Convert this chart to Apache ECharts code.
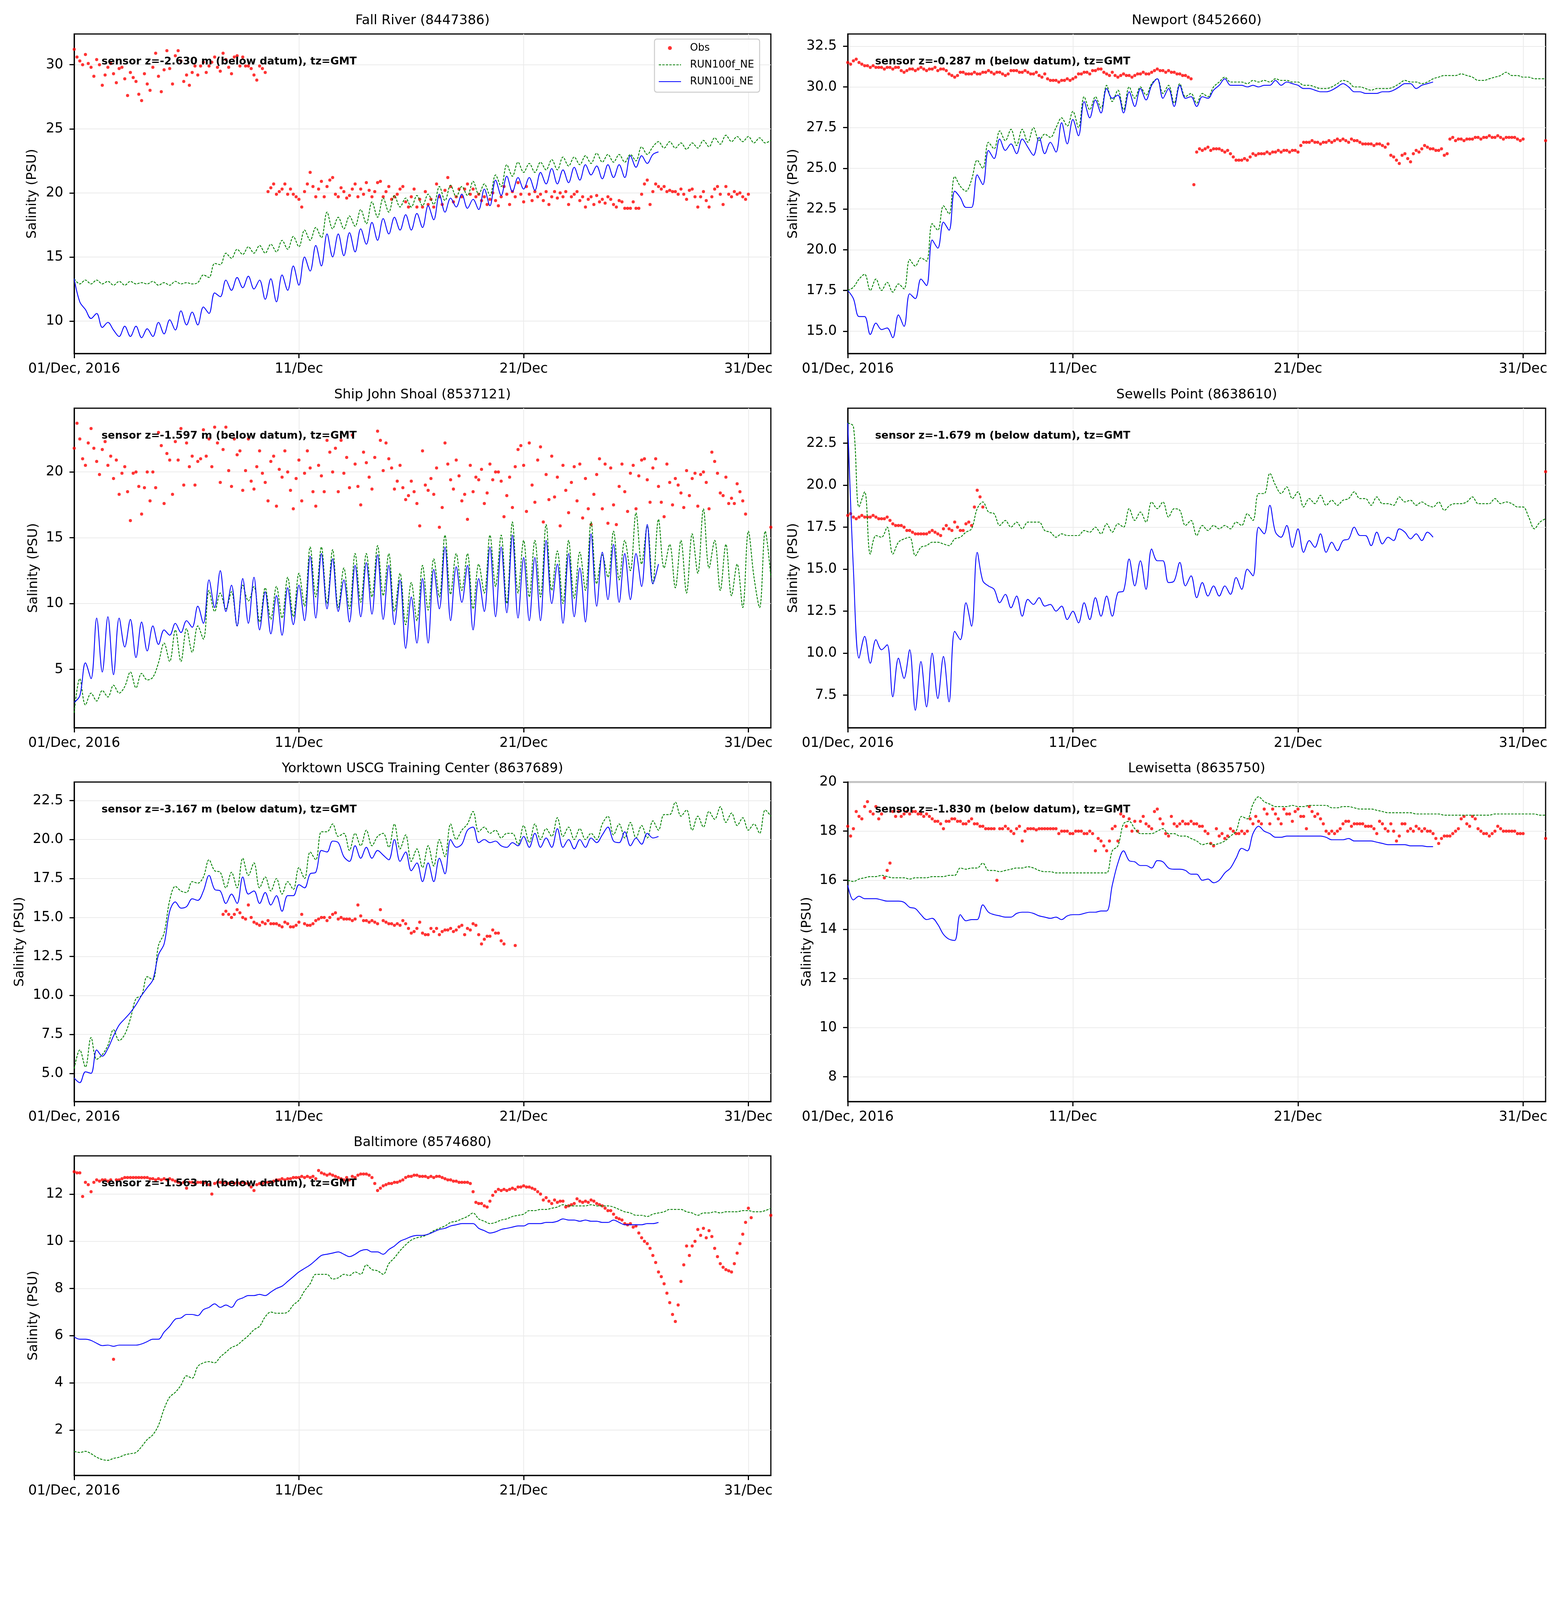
<!DOCTYPE html>
<html><head><meta charset="utf-8">
<script src="https://cdn.jsdelivr.net/npm/echarts@6/dist/echarts.min.js"></script>
<style>html,body{margin:0;padding:0;background:#fff}#chart{width:4000px;height:5000px}</style>
</head><body><div id="chart"></div>
<script>
// ---------------- DATA ----------------
const MODEL_STEP_H = 6;   // model series sampled every 6 h from 01/Dec 00:00
const OBS_STEP_H = 3;     // observations sampled every 3 h from 01/Dec 00:00
const seriesNames = ['Obs', 'RUN100f_NE', 'RUN100i_NE'];
const stationTitles = ['Fall River (8447386)', 'Newport (8452660)', 'Ship John Shoal (8537121)', 'Sewells Point (8638610)',
  'Yorktown USCG Training Center (8637689)', 'Lewisetta (8635750)', 'Baltimore (8574680)'];
const sensorNotes = ['sensor z=-2.630 m (below datum), tz=GMT', 'sensor z=-0.287 m (below datum), tz=GMT',
  'sensor z=-1.597 m (below datum), tz=GMT', 'sensor z=-1.679 m (below datum), tz=GMT',
  'sensor z=-3.167 m (below datum), tz=GMT', 'sensor z=-1.830 m (below datum), tz=GMT',
  'sensor z=-1.563 m (below datum), tz=GMT'];
const xTickDays = [0, 10, 20, 30];
const xTickLabels = ['01/Dec, 2016', '11/Dec', '21/Dec', '31/Dec'];
const xRangeDays = [0, 31];
const yAxisTitle = 'Salinity (PSU)';
const xAxisTitle = 'Time';

const fallRiverYRange = [7.47, 32.4];
const fallRiverYTicks = [10, 15, 20, 25, 30];
const newportYRange = [13.63, 33.25];
const newportYTicks = [15, 17.5, 20, 22.5, 25, 27.5, 30, 32.5];
const shipJohnYRange = [0.57, 24.84];
const shipJohnYTicks = [5, 10, 15, 20];
const sewellsYRange = [5.56, 24.58];
const sewellsYTicks = [7.5, 10, 12.5, 15, 17.5, 20, 22.5];
const yorktownYRange = [3.19, 23.69];
const yorktownYTicks = [5, 7.5, 10, 12.5, 15, 17.5, 20, 22.5];
const lewisettaYRange = [6.99, 20];
const lewisettaYTicks = [8, 10, 12, 14, 16, 18, 20];
const baltimoreYRange = [0.08, 13.62];
const baltimoreYTicks = [2, 4, 6, 8, 10, 12];
const yTickDecimals = [0, 1, 0, 1, 1, 0, 0];

// Fall River
const fallRiverObs = [31.2,30.6,30.3,30.0,30.8,30.1,29.8,29.1,30.4,30.0,
28.4,29.2,29.8,30.1,29.3,28.6,29.7,29.8,28.9,27.6,
29.4,29.0,28.7,27.7,27.2,29.3,28.5,28.0,29.8,30.9,
29.1,27.9,29.6,31.1,29.7,28.5,30.7,31.1,30.3,28.7,
29.2,28.4,29.4,29.9,29.2,29.9,30.2,29.4,29.9,30.2,
30.6,29.8,29.5,30.9,30.4,29.8,29.3,30.6,30.7,29.9,
30.6,29.9,29.9,29.7,29.2,28.8,29.9,29.7,29.4,
20.1,20.4,20.7,19.9,20.1,20.3,20.7,19.9,20.3,19.9,
19.7,19.5,18.9,20.1,20.7,21.6,20.5,19.7,20.3,20.9,
19.7,20.5,21.0,21.2,19.9,19.7,20.4,20.1,19.6,19.8,
20.3,20.7,19.7,20.3,19.9,20.8,20.2,19.7,20.1,20.8,
20.9,19.7,20.1,20.5,19.5,19.7,19.9,20.3,20.5,19.3,
18.9,19.7,20.3,18.9,19.5,18.9,20.1,19.1,19.5,18.9,
20.7,19.7,19.1,20.2,21.2,20.5,19.3,19.7,20.3,19.7,
20.3,20.7,19.9,20.3,19.7,19.9,19.4,19.7,19.1,19.5,
20.0,19.4,19.0,19.7,20.5,19.9,19.1,20.1,19.7,20.8,
19.9,19.3,20.5,19.9,19.4,20.1,19.7,19.9,19.4,20.1,
19.1,19.7,20.1,19.6,20.0,19.7,20.1,19.1,19.7,19.9,
20.1,19.4,19.7,18.9,19.5,19.7,19.1,19.8,19.3,19.5,
19.2,19.7,19.5,19.1,18.9,19.4,19.3,18.8,18.8,18.8,
19.3,18.8,18.8,19.9,20.7,21.0,19.1,20.1,20.7,20.5,
20.3,20.5,20.1,20.2,20.1,20.1,19.9,20.3,19.9,19.5,
20.2,20.3,19.7,18.9,19.7,20.1,19.4,18.9,19.7,20.3,
20.5,19.9,19.1,20.5,19.9,19.7,20.1,19.9,20.0,19.7,
19.5,19.9];
const fallRiverRun100f = [13.3,12.9,13.2,12.9,13.2,12.9,13.1,12.8,13.1,12.8,
13.1,12.9,13.0,12.9,13.1,12.8,13.0,12.8,13.1,12.9,
13.0,12.9,13.0,13.6,13.4,14.5,14.4,15.3,14.9,15.6,
15.2,15.8,15.3,15.9,15.3,16.0,15.4,16.3,15.6,16.6,
15.8,17.1,16.3,17.3,16.5,18.5,17.2,18.1,17.2,18.2,
17.4,18.7,17.6,19.3,18.1,19.6,18.5,19.8,18.9,19.6,
18.9,19.8,19.0,19.9,19.1,20.5,19.4,20.6,19.7,20.5,
19.8,20.9,19.9,20.7,19.8,21.4,20.5,22.2,21.3,22.4,
21.6,22.3,21.6,22.4,21.8,22.6,21.8,22.8,22.1,22.8,
22.2,22.9,22.3,23.1,22.4,23.0,22.4,23.0,22.4,23.0,
22.5,23.6,23.0,23.6,24.0,23.5,24.0,23.5,23.9,23.4,
23.9,23.5,24.1,23.6,24.3,23.8,24.5,24.0,24.4,24.0,
24.4,23.9,24.3,23.9,24.1];
const fallRiverRun100i = [13.3,11.5,10.9,10.2,10.6,9.5,9.9,9.3,8.8,9.6,
8.8,9.6,8.7,9.4,8.8,9.9,9.0,10.1,9.3,10.8,
9.7,10.7,9.7,11.1,10.6,12.2,11.9,13.2,12.4,13.4,
12.6,13.5,12.5,13.2,11.7,13.3,11.5,13.6,12.4,14.3,
12.8,15.0,13.9,15.9,14.3,16.8,15.0,16.8,15.1,16.9,
15.4,17.2,16.0,17.7,16.3,18.0,16.8,18.1,17.1,18.3,
17.1,18.4,17.3,19.0,17.9,19.9,18.5,19.6,18.9,19.9,
18.8,19.5,18.7,20.3,19.0,21.0,19.8,21.3,20.1,21.2,
20.3,21.2,20.2,21.6,20.7,21.9,20.7,21.8,20.8,22.0,
21.0,22.2,21.4,22.1,21.1,22.2,21.2,22.2,21.2,22.9,
22.0,22.9,22.3,23.0,23.2];

// Newport
const newportObs = [31.5,31.4,31.6,31.7,31.5,31.4,31.3,31.3,31.2,31.3,
31.2,31.2,31.2,31.1,31.2,31.2,31.1,31.2,31.2,31.0,
30.9,31.0,31.1,31.1,31.0,31.1,31.2,31.1,31.0,31.1,
31.1,31.2,31.0,31.1,31.1,31.0,30.8,30.7,30.6,30.7,
30.9,30.9,30.8,30.8,30.8,30.9,30.8,30.8,30.9,30.9,
31.0,30.9,30.8,30.9,30.9,30.8,30.7,30.8,31.0,31.0,
31.0,30.9,30.9,31.0,30.9,30.8,30.8,30.9,30.7,30.6,
30.8,30.5,30.4,30.4,30.4,30.3,30.4,30.4,30.5,30.4,
30.5,30.6,30.8,30.8,30.9,30.9,30.8,31.0,31.0,31.1,
31.1,30.9,30.8,30.7,30.9,30.7,30.6,30.7,30.8,30.7,
30.7,30.6,30.7,30.8,30.8,30.9,30.8,30.8,30.9,31.0,
31.1,31.0,31.0,30.9,31.0,30.9,30.9,30.8,30.8,30.7,
30.7,30.6,30.5,24.0,26.0,26.2,26.1,26.2,26.3,26.1,
26.2,26.2,26.2,26.1,26.0,26.1,25.9,25.7,25.5,25.5,
25.5,25.6,25.5,25.7,25.9,25.8,25.9,25.9,25.9,26.0,
25.9,26.0,26.0,26.1,26.0,26.1,26.1,26.0,26.1,26.1,
26.0,26.4,26.6,26.6,26.6,26.7,26.6,26.6,26.5,26.6,
26.6,26.7,26.6,26.7,26.8,26.7,26.8,26.7,26.6,26.8,
26.7,26.7,26.6,26.5,26.5,26.5,26.5,26.4,26.5,26.5,
26.4,26.3,26.5,25.8,25.7,25.5,25.3,25.8,25.9,25.6,
25.4,25.9,26.1,26.0,26.2,26.4,26.3,26.2,26.2,26.1,
26.1,26.2,25.8,25.9,26.8,26.9,26.7,26.8,26.8,26.7,
26.8,26.8,26.8,26.9,26.9,26.8,26.9,26.9,27.0,26.9,
26.9,27.0,26.9,26.8,26.9,26.9,26.9,26.9,26.8,26.7,
26.8,null,null,null,null,null,null,null,26.7];
const newportRun100f = [17.5,17.7,18.2,18.5,17.5,18.2,17.5,18.0,17.4,17.9,
17.6,19.4,19.0,19.5,19.3,21.6,21.2,22.7,22.2,24.5,
23.9,23.6,24.3,25.5,25.0,26.6,26.2,27.3,26.7,27.4,
26.4,27.4,26.6,27.5,26.7,27.1,26.9,27.5,28.1,27.6,
28.5,27.5,29.4,28.6,29.4,28.7,30.1,29.1,29.8,28.6,
30.0,29.3,30.0,29.5,30.2,30.5,29.6,30.1,29.0,30.2,
29.4,29.6,29.0,29.6,29.4,30.0,30.3,30.6,30.3,30.3,
30.3,30.2,30.4,30.3,30.4,30.3,30.5,30.4,30.4,30.3,
30.3,30.1,30.1,30.0,29.9,29.9,30.0,30.2,30.4,30.3,
30.0,30.0,29.9,29.8,29.9,29.9,29.9,30.0,30.2,30.4,
30.3,30.3,30.2,30.3,30.5,30.6,30.7,30.7,30.7,30.8,
30.7,30.6,30.4,30.4,30.5,30.6,30.7,30.9,30.7,30.7,
30.6,30.6,30.5,30.5,30.5];
const newportRun100i = [17.5,17.0,15.9,15.9,14.8,15.5,15.1,15.2,14.6,16.0,
15.3,17.3,17.0,18.2,17.8,20.6,20.1,21.7,21.2,23.6,
23.2,22.6,22.6,24.6,24.0,26.1,25.6,26.8,26.1,26.5,
25.9,26.8,26.3,25.8,26.9,25.9,26.6,26.0,27.8,26.5,
28.0,27.0,29.1,28.1,29.2,28.4,29.9,29.3,29.5,28.4,
29.7,28.8,29.9,29.2,30.1,30.5,29.3,29.9,28.8,30.1,
29.3,29.4,28.8,29.4,29.3,29.8,30.1,30.5,30.1,30.1,
30.1,30.0,30.1,30.0,30.1,30.1,30.4,30.1,30.3,30.2,
30.1,29.9,29.9,29.8,29.7,29.7,29.8,30.0,30.2,30.0,
29.7,29.7,29.6,29.6,29.6,29.7,29.7,29.8,30.0,30.2,
30.2,29.9,30.1,30.2,30.3];

// Ship John Shoal
const shipJohnObs = [21.8,23.7,22.5, 21.0,20.5,22.2, 23.3,21.8,
20.8,19.8,21.7, 22.3,20.5,21.2, 19.5,20.9,
18.3,19.9,20.4, 18.5,16.3,19.9, 20.0,18.9,
16.8,18.8,20.0, 17.8,20.0,18.8, 23.0,22.0,
17.6,21.4,20.9, 18.3,22.3,20.9, 23.3,19.0,
22.2,20.4,21.2, 19.0,20.8,21.0, 23.2,21.2,
22.5,20.4,23.4, 22.2,19.2,21.7, 23.4,20.1,
18.9,22.5,21.3, 21.6,18.6,20.1, 22.5,19.3,
18.7,20.4,21.6, 19.9,19.2,17.8, 20.8,21.2,
17.4,20.2,19.6, 21.6,20.0,18.6, 17.2,19.5,
20.9,17.8,19.9, 21.6,20.3,18.5, 17.4,20.5,
19.7,18.5,22.4, 21.5,20.0,21.8, 18.5,22.4,
19.9,21.1,18.8, 22.8,20.6,18.9, 17.5,21.5,
20.7,19.6,18.7, 21.1,23.1,22.4, 20.1,22.2,
21.0,20.3,18.7, 19.3,20.5,18.8, 17.9,18.2,
19.3,18.5,17.6, 15.9,21.6,19.0, 18.6,19.5,
18.3,20.3,15.8, 17.3,22.2,20.6, 19.4,18.7,
20.9,19.7,17.8, 18.3,16.4,20.5, 18.5,19.6,
19.4,20.2,17.6, 18.4,20.6,19.4, 20.0,20.0,
19.3,16.6,18.2, 19.6,17.3,20.4, 21.7,22.0,
20.5,17.0,22.2, 19.0,17.7,20.9, 21.9,16.2,
19.8,17.9,21.2, 18.1,19.6,15.9, 20.5,18.6,
16.9,19.2,20.4, 17.8,20.6,16.5, 19.5,17.2,
16.0,18.3,19.8, 21.0,17.2,20.6, 16.1,20.3,
17.5,16.0,18.9, 20.6,18.5,17.0, 19.9,20.5,
17.2,19.7,20.9, 21.0,19.4,17.7, 20.3,21.0,
18.9,17.7,16.6, 20.6,19.2,17.5, 19.5,19.0,
18.4,17.3,20.1, 18.2,19.5,19.9, 17.4,19.8,
20.0,19.2,17.2, 21.5,20.8,19.9, 18.4,18.2,
19.6,17.6,18.0, 17.6,19.1,18.5, 17.8,16.8,
null,null,null,null,null,null,null,null,15.8];
const shipJohnRun100f = [1.7,4.3,2.3,3.2,2.6,3.4,2.9,3.8,3.2,3.7,
4.8,3.6,4.7,4.2,4.4,5.5,7.0,5.6,8.0,5.6,
8.1,6.3,8.3,7.3,11.0,9.4,10.8,9.6,10.9,8.3,
11.4,10.2,11.3,8.6,11.2,8.8,11.3,8.9,12.0,9.0,
12.3,9.8,14.3,10.5,14.3,10.0,14.1,9.7,12.7,9.6,
13.8,10.1,13.8,10.5,14.4,10.6,13.8,9.4,12.3,8.4,
11.6,8.7,12.9,9.5,13.4,10.5,15.2,10.7,13.8,11.0,
13.8,9.6,13.0,10.8,15.2,11.3,15.2,10.0,16.2,10.8,
14.8,10.5,14.8,10.5,16.0,11.0,14.0,10.0,14.8,10.4,
13.9,11.0,16.2,11.5,13.7,12.0,15.5,11.8,14.8,12.5,
16.9,13.0,15.9,11.5,16.4,12.7,14.5,11.2,14.8,10.8,
15.3,12.3,17.2,12.7,14.8,11.0,14.5,10.6,13.0,9.7,
15.5,12.0,9.7,15.5,12.0];
const shipJohnRun100i = [2.5,3.0,5.5,4.3,8.9,4.8,9.0,4.6,8.9,6.7,
8.8,5.9,8.6,6.4,8.3,6.9,8.0,7.6,8.5,7.8,
8.7,8.2,9.8,8.5,11.8,9.7,12.5,9.4,11.4,8.3,
11.9,8.5,12.0,8.0,10.9,7.7,10.6,7.6,11.2,8.4,
11.4,8.7,13.6,8.9,13.8,9.6,13.4,9.4,11.8,8.6,
12.9,9.0,13.1,9.2,13.7,8.8,12.9,8.4,11.8,6.6,
10.5,7.0,11.9,7.0,12.6,9.6,14.3,8.7,12.8,10.1,
12.9,8.0,11.9,9.4,14.3,9.0,14.3,9.3,15.2,8.9,
13.5,8.7,13.5,8.7,14.8,10.0,13.0,8.5,13.8,9.0,
12.7,8.6,15.3,9.8,13.9,10.3,14.5,10.1,13.8,10.3,
13.8,11.3,16.0,11.5,13.0];

// Sewells Point
const sewellsObs = [18.2,18.3,18.1,18.0,18.1,18.2,18.1,18.1,18.1,18.2,
18.1,18.0,18.0,18.0,18.1,17.9,17.7,17.6,17.6,17.6,
17.5,17.3,17.3,17.2,17.1,17.1,17.1,17.1,17.1,17.2,
17.3,17.2,17.1,17.0,17.4,17.6,17.4,17.3,17.8,17.5,
17.3,17.3,17.7,17.8,17.6,18.7,19.7,19.3,18.7,
...Array(199).fill(null), 20.8];
const sewellsRun100f = [23.7,23.5,18.7,19.6,15.9,17.0,16.9,17.5,15.9,16.6,
16.8,16.9,15.8,16.3,16.4,16.6,16.6,16.5,16.4,16.8,
16.9,17.2,17.4,18.6,19.0,18.4,18.3,17.6,17.9,17.5,
17.8,17.4,17.8,17.8,17.8,17.3,17.2,16.9,17.1,17.0,
17.0,17.0,17.3,17.2,17.5,17.1,17.7,17.2,17.7,17.5,
18.6,17.9,18.4,17.8,19.0,18.6,19.0,18.1,18.6,18.5,
17.6,17.9,17.0,17.6,17.3,17.6,17.4,17.6,17.4,17.8,
17.6,18.3,17.9,19.5,19.5,20.7,20.0,19.5,19.9,19.2,
19.6,18.7,19.2,18.9,19.4,18.8,19.1,18.8,19.1,19.2,
19.6,19.2,19.2,18.8,19.3,18.9,18.9,18.8,19.3,19.0,
19.1,18.8,19.0,18.8,18.7,19.0,18.5,18.8,18.9,18.9,
19.0,19.3,18.9,18.9,18.9,19.2,18.9,19.0,18.9,18.7,
18.7,18.1,17.4,17.8,18.0];
const sewellsRun100i = [23.7,15.0,9.7,11.0,9.4,10.8,10.2,10.5,7.4,9.7,
8.5,10.2,6.6,9.5,6.8,10.0,7.3,9.8,7.1,11.3,
10.8,13.0,11.6,16.0,14.3,14.0,13.8,13.0,13.5,12.7,
13.4,12.2,13.2,12.9,13.3,12.8,12.9,12.5,12.8,12.0,
12.5,11.8,13.0,12.0,13.3,12.2,13.4,12.2,13.6,13.7,
15.6,14.0,15.5,13.8,16.2,15.5,15.5,14.2,14.3,15.4,
14.0,14.6,13.3,14.2,13.4,14.0,13.4,14.0,13.5,14.5,
13.8,15.0,14.6,17.5,17.1,18.8,17.2,16.9,17.6,16.3,
17.4,16.0,16.7,16.3,17.1,16.0,16.6,16.1,16.7,16.8,
17.5,17.0,17.0,16.4,17.2,16.5,16.9,16.7,17.4,17.2,
16.8,17.1,16.7,17.2,16.9];

// Yorktown
const yorktownObs = [...Array(53).fill(null),
15.2,15.4,15.2,15.0,15.2,15.5,15.3,15.0,14.9,15.8,
15.0,14.7,14.6,14.5,14.7,14.6,14.8,14.6,14.6,14.6,
14.5,14.4,14.7,14.6,14.4,14.4,14.5,14.7,15.2,14.6,
14.5,14.5,14.6,14.8,14.9,15.0,15.0,14.8,15.0,15.2,
15.3,14.9,15.0,14.9,14.9,14.9,14.8,14.9,15.8,15.1,
14.8,14.8,14.7,14.8,14.7,14.6,15.5,14.8,14.7,14.6,
14.6,14.5,14.6,14.5,14.8,14.6,14.3,14.0,14.1,14.3,
14.7,14.0,13.9,13.9,14.3,14.1,14.3,13.9,14.1,14.2,
14.2,14.3,14.1,14.2,14.4,14.5,13.9,14.3,14.2,14.6,
14.5,13.9,13.3,13.6,13.8,13.8,14.2,14.0,14.0,13.5,
13.3,null,null,null,13.2];
const yorktownRun100f = [5.3,6.5,5.4,7.3,5.9,6.2,6.8,7.8,7.1,7.5,
8.5,9.8,10.0,11.2,11.0,13.2,14.0,16.1,17.0,16.7,
16.6,17.3,17.2,17.6,18.7,18.0,17.9,16.9,17.9,16.9,
18.8,17.7,18.5,16.9,17.6,16.7,17.5,16.5,17.3,16.8,
18.2,17.5,19.2,18.7,20.5,20.5,21.0,20.2,20.4,19.3,
20.4,19.6,20.6,19.6,20.2,20.4,19.5,21.0,19.4,20.3,
18.6,19.4,18.2,19.6,18.3,20.0,18.9,21.0,20.0,20.6,
21.0,21.8,20.5,20.8,20.4,20.6,20.1,20.4,20.4,19.7,
20.9,19.8,21.0,20.0,20.7,20.2,21.4,20.2,20.8,20.0,
20.7,20.0,20.4,20.0,21.0,21.5,20.3,21.0,20.1,21.1,
20.1,20.9,20.1,21.2,20.6,21.6,21.6,22.4,21.5,21.9,
20.6,21.5,20.8,21.8,21.3,22.1,21.1,21.7,20.9,21.4,
20.6,21.0,20.4,21.9,21.5];
const yorktownRun100i = [4.7,4.4,5.1,5.0,6.5,6.1,6.6,7.4,8.1,8.5,
8.9,9.4,10.0,10.5,11.0,12.6,13.3,15.4,16.0,15.6,
15.7,16.2,16.1,16.7,17.7,16.8,16.7,15.9,16.5,15.9,
17.6,16.5,16.7,15.9,16.6,15.8,16.4,15.4,16.4,16.4,
17.1,16.9,17.8,17.9,19.3,19.2,19.9,19.8,18.9,18.6,
19.6,18.8,19.5,18.8,19.3,19.0,18.7,20.0,18.6,19.2,
18.0,18.5,17.3,18.5,17.3,18.8,17.8,20.0,19.5,19.7,
20.6,20.8,19.8,20.0,19.8,19.9,19.6,19.5,19.8,19.6,
20.2,19.5,20.4,19.5,20.1,19.5,20.7,19.5,20.0,19.4,
20.0,19.5,20.1,19.8,20.3,20.8,19.9,19.8,20.5,19.6,
20.1,19.7,20.4,20.1,20.2];

// Lewisetta
const lewisettaObs = [18.2,17.8,18.1,18.8,18.6,18.5,19.0,19.2,18.8,18.7,
19.0,18.5,18.7,16.1,16.4,16.7,18.8,18.6,18.8,18.6,
18.7,18.8,18.7,18.8,18.8,18.7,18.7,18.6,18.7,18.6,
18.5,18.4,18.4,18.3,18.1,18.4,18.4,18.5,18.5,18.4,
18.4,18.3,18.3,18.4,18.5,18.3,18.3,18.2,18.2,18.1,
18.1,18.1,18.1,16.0,18.1,18.1,18.2,18.1,18.0,17.9,
18.1,18.2,17.6,18.0,18.1,18.1,18.1,18.05,18.1,18.1,
18.1,18.1,18.1,18.1,18.1,17.9,18.0,18.0,18.0,17.9,
17.9,18.0,18.0,18.0,17.9,17.9,18.0,17.9,17.2,17.7,
17.6,17.4,17.2,17.6,18.1,18.2,17.6,18.7,18.6,18.2,
18.5,18.0,18.4,18.0,18.4,18.6,18.3,18.2,18.1,18.8,
18.9,18.5,18.3,17.9,17.8,18.6,18.3,18.2,18.3,18.4,
18.3,18.3,18.4,18.3,18.3,18.2,18.2,18.0,17.9,17.5,
17.4,18.1,17.8,17.9,17.7,17.8,18.1,18.0,17.9,17.9,
18.0,17.9,18.0,18.5,18.3,18.6,18.4,18.3,18.9,18.7,
18.3,18.9,18.7,18.5,18.3,18.9,18.7,18.7,18.4,18.8,
18.9,18.6,18.6,18.1,19.0,18.8,18.6,18.7,18.5,18.3,
18.0,17.9,18.0,17.9,18.0,18.1,18.3,18.4,18.4,18.2,
18.3,18.3,18.3,18.3,18.2,18.2,18.2,18.1,17.9,18.4,
18.3,18.1,18.0,18.3,18.0,17.6,17.8,18.3,18.3,18.0,
18.1,18.0,18.2,18.1,18.0,18.1,18.0,18.0,17.9,17.7,
17.5,17.7,17.8,17.8,17.8,17.9,18.0,18.1,18.5,18.6,
18.3,18.2,18.6,18.5,18.1,18.0,17.9,17.9,17.8,17.9,
18.0,18.2,18.1,18.0,18.0,18.0,18.0,18.0,17.9,17.9,
17.9,null,null,null,null,null,null,null,17.7];
const lewisettaRun100f = [16.0,15.95,16.05,16.1,16.15,16.15,16.2,16.15,16.1,16.1,
16.1,16.05,16.1,16.1,16.1,16.15,16.15,16.15,16.2,16.2,
16.5,16.45,16.5,16.5,16.7,16.4,16.4,16.35,16.4,16.45,
16.5,16.5,16.55,16.5,16.4,16.35,16.35,16.3,16.3,16.3,
16.3,16.3,16.3,16.3,16.3,16.3,16.3,17.2,17.4,18.3,
18.4,18.1,17.9,17.9,17.9,18.0,18.1,17.9,17.9,17.8,
17.8,17.7,17.6,17.45,17.5,17.45,17.5,17.6,17.8,18.0,
18.6,18.5,19.1,19.4,19.2,19.1,19.0,19.0,19.0,19.05,
19.0,19.0,19.05,19.05,19.05,19.05,18.95,18.95,19.0,19.0,
18.95,18.9,18.9,18.9,18.85,18.8,18.75,18.75,18.75,18.75,
18.75,18.7,18.7,18.7,18.7,18.7,18.65,18.65,18.65,18.65,
18.65,18.65,18.65,18.65,18.65,18.7,18.7,18.7,18.7,18.7,
18.7,18.7,18.7,18.65,18.65];
const lewisettaRun100i = [15.8,15.2,15.35,15.25,15.25,15.25,15.2,15.15,15.15,15.15,
15.1,14.9,14.85,14.6,14.4,14.45,14.2,13.8,13.6,13.55,
14.6,14.35,14.4,14.4,15.0,14.7,14.6,14.55,14.5,14.5,
14.65,14.7,14.7,14.65,14.55,14.5,14.45,14.5,14.4,14.55,
14.6,14.6,14.65,14.7,14.7,14.75,14.75,15.8,16.7,17.2,
16.8,16.75,16.6,16.6,16.5,16.8,16.75,16.5,16.45,16.45,
16.4,16.25,16.25,16.0,16.05,15.9,16.0,16.3,16.5,16.9,
17.3,17.2,17.9,18.2,18.0,17.9,17.75,17.75,17.8,17.8,
17.8,17.8,17.8,17.8,17.8,17.75,17.65,17.65,17.65,17.7,
17.6,17.6,17.6,17.6,17.55,17.5,17.45,17.45,17.45,17.45,
17.4,17.4,17.4,17.37,17.37];

// Baltimore
const baltimoreObs = [12.95,12.9,12.9,11.9,12.5,12.4,12.1,12.5,12.6,12.55,
12.6,12.6,12.55,12.6,5.0,12.6,12.6,12.65,12.7,12.7,
12.7,12.7,12.7,12.7,12.7,12.7,12.7,12.65,12.65,12.6,
12.65,12.6,12.65,12.6,12.65,12.6,12.55,12.5,12.45,12.5,
12.25,12.5,12.5,12.45,12.5,12.5,12.45,12.5,12.4,12.0,
12.45,12.5,12.5,12.45,12.5,12.45,12.5,12.45,12.5,12.45,
12.5,12.45,12.45,12.3,12.15,12.4,12.45,12.45,12.5,12.5,
12.5,12.55,12.6,12.6,12.65,12.6,12.65,12.65,12.7,12.7,
12.7,12.75,12.7,12.75,12.7,12.75,12.65,13.0,12.9,12.85,
12.8,12.85,12.8,12.75,12.7,12.65,12.6,12.7,12.6,12.75,
12.7,12.8,12.85,12.85,12.85,12.8,12.7,12.45,12.15,12.25,
12.35,12.4,12.45,12.45,12.5,12.5,12.55,12.6,12.7,12.75,
12.75,12.8,12.8,12.75,12.75,12.75,12.7,12.75,12.7,12.75,
12.75,12.7,12.65,12.6,12.6,12.55,12.55,12.5,12.5,12.5,
12.5,12.45,12.1,11.65,11.6,11.6,11.5,11.45,11.7,11.95,
12.1,12.2,12.15,12.2,12.15,12.2,12.25,12.2,12.3,12.3,
12.35,12.3,12.3,12.25,12.2,12.1,12.0,11.75,11.85,11.7,
11.6,11.75,11.65,11.7,11.7,11.45,11.5,11.55,11.6,11.8,
11.7,11.65,11.7,11.65,11.75,11.7,11.6,11.55,11.5,11.4,
11.3,11.3,11.15,11.0,10.95,10.9,10.75,10.7,10.75,10.6,
10.65,10.35,10.15,10.0,9.9,9.7,9.4,9.1,8.7,8.5,
8.2,7.8,7.4,6.9,6.6,7.3,8.3,9.0,9.8,9.4,
9.8,10.0,10.5,10.25,10.55,10.15,10.45,10.2,9.7,9.35,
9.05,8.9,8.8,8.75,8.7,9.05,9.5,9.9,10.3,10.8,
11.4,11.0,null,null,null,null,null,null,11.1];
const baltimoreRun100f = [1.1,1.05,1.1,1.0,0.85,0.75,0.72,0.8,0.85,0.95,
1.0,1.05,1.3,1.6,1.8,2.2,2.9,3.4,3.6,3.9,
4.3,4.2,4.7,4.85,4.9,4.85,5.1,5.3,5.5,5.6,
5.8,6.0,6.25,6.4,6.8,7.0,6.95,6.95,7.0,7.3,
7.5,7.9,8.2,8.6,8.6,8.6,8.4,8.45,8.6,8.55,
8.7,8.6,9.0,8.8,8.75,8.6,9.05,9.3,9.6,9.85,
10.05,10.15,10.2,10.3,10.45,10.55,10.65,10.8,10.85,10.95,
11.05,11.2,10.95,10.85,10.75,10.8,10.9,10.95,11.05,11.1,
11.15,11.3,11.3,11.35,11.35,11.4,11.45,11.55,11.5,11.5,
11.5,11.5,11.55,11.5,11.5,11.5,11.45,11.35,11.25,11.2,
11.1,11.1,11.05,11.15,11.2,11.25,11.35,11.35,11.35,11.25,
11.2,11.1,11.2,11.2,11.25,11.2,11.25,11.25,11.25,11.3,
11.3,11.25,11.25,11.3,11.4];
const baltimoreRun100i = [5.95,5.85,5.85,5.8,5.68,5.58,5.6,5.55,5.6,5.6,
5.6,5.6,5.65,5.75,5.85,5.85,6.15,6.4,6.7,6.75,
6.9,6.9,6.85,7.1,7.2,7.35,7.2,7.3,7.2,7.5,
7.6,7.7,7.7,7.75,7.7,7.85,8.0,8.1,8.3,8.5,
8.7,8.85,9.0,9.2,9.4,9.45,9.5,9.55,9.45,9.35,
9.45,9.6,9.65,9.55,9.55,9.45,9.65,9.8,10.0,10.1,
10.2,10.25,10.25,10.3,10.4,10.5,10.55,10.65,10.7,10.75,
10.75,10.75,10.55,10.45,10.35,10.4,10.5,10.55,10.6,10.65,
10.65,10.75,10.75,10.75,10.8,10.8,10.85,10.95,10.9,10.9,
10.85,10.9,10.85,10.85,10.8,10.8,10.9,10.8,10.7,10.7,
10.7,10.7,10.75,10.75,10.8];

// ---------------- CHART ----------------
const FONT = 'DejaVu Sans';
const panels = [
  {obs: fallRiverObs, runF: fallRiverRun100f, runI: fallRiverRun100i, yRange: fallRiverYRange, yTicks: fallRiverYTicks},
  {obs: newportObs, runF: newportRun100f, runI: newportRun100i, yRange: newportYRange, yTicks: newportYTicks},
  {obs: shipJohnObs, runF: shipJohnRun100f, runI: shipJohnRun100i, yRange: shipJohnYRange, yTicks: shipJohnYTicks},
  {obs: sewellsObs, runF: sewellsRun100f, runI: sewellsRun100i, yRange: sewellsYRange, yTicks: sewellsYTicks},
  {obs: yorktownObs, runF: yorktownRun100f, runI: yorktownRun100i, yRange: yorktownYRange, yTicks: yorktownYTicks},
  {obs: lewisettaObs, runF: lewisettaRun100f, runI: lewisettaRun100i, yRange: lewisettaYRange, yTicks: lewisettaYTicks},
  {obs: baltimoreObs, runF: baltimoreRun100f, runI: baltimoreRun100i, yRange: baltimoreYRange, yTicks: baltimoreYTicks}
];

// layout (pixels)
const colLeft = [190, 2171], colWidth = [1784, 1787];
const rowTop = [87, 1045, 2002, 2959], gridH = 818;
const yNameX = [83, 2032, 86, 2032, 51, 2067, 86];

function toPoints(arr, stepH) { return arr.map((v, i) => [i * stepH / 24, v]); }

const grids = [], xAxes = [], yAxes = [], series = [], graphics = [];
const axisLineStyle = {color: '#000', width: 3};
const gridLineStyle = {color: '#ebebeb', width: 2};

panels.forEach((p, k) => {
  const col = k % 2, row = Math.floor(k / 2);
  const left = colLeft[col], top = rowTop[row], width = colWidth[col];
  grids.push({left, top, width, height: gridH, show: true, borderColor: '#000', borderWidth: 3, backgroundColor: 'rgba(0,0,0,0)'});
  xAxes.push({
    type: 'value', gridIndex: k, min: xRangeDays[0], max: xRangeDays[1],
    axisLine: {show: true, onZero: false, lineStyle: axisLineStyle},
    axisTick: {show: true, length: 12, customValues: xTickDays, lineStyle: axisLineStyle},
    axisLabel: {customValues: xTickDays, formatter: v => xTickLabels[xTickDays.indexOf(v)] || '',
      fontSize: 35, fontFamily: FONT, color: '#000', margin: 22},
    splitLine: {show: true, lineStyle: gridLineStyle}
  });
  const dec = yTickDecimals[k];
  yAxes.push({
    type: 'value', gridIndex: k, min: p.yRange[0], max: p.yRange[1],
    axisLine: {show: true, onZero: false, lineStyle: axisLineStyle},
    axisTick: {show: true, length: 12, customValues: p.yTicks, lineStyle: axisLineStyle},
    axisLabel: {customValues: p.yTicks, formatter: v => Number(v).toFixed(dec),
      fontSize: 35, fontFamily: FONT, color: '#000', margin: 28},
    splitLine: {show: true, lineStyle: gridLineStyle}
  });
  series.push({
    type: 'scatter', name: seriesNames[0], xAxisIndex: k, yAxisIndex: k,
    data: toPoints(p.obs, OBS_STEP_H).filter(d => d[1] != null),
    symbol: 'circle', symbolSize: 8, itemStyle: {color: '#ff0000'}
  });
  series.push({
    type: 'line', name: seriesNames[1], xAxisIndex: k, yAxisIndex: k,
    data: toPoints(p.runF, MODEL_STEP_H), symbol: 'none', showSymbol: false, smooth: 0.35,
    lineStyle: {color: '#008000', width: 2.2, type: [6, 3]}, itemStyle: {color: '#008000'}
  });
  series.push({
    type: 'line', name: seriesNames[2], xAxisIndex: k, yAxisIndex: k,
    data: toPoints(p.runI, MODEL_STEP_H), symbol: 'none', showSymbol: false, smooth: 0.35,
    lineStyle: {color: '#0000ff', width: 2.2}, itemStyle: {color: '#0000ff'}
  });
  graphics.push({type: 'text', x: left + width / 2, y: top - 34, z: 100,
    style: {text: stationTitles[k], fontSize: 34, fontFamily: FONT, fill: '#000', align: 'center', verticalAlign: 'middle'}});
  graphics.push({type: 'text', x: left + 70, y: top + 71, z: 100,
    style: {text: sensorNotes[k], fontSize: 27, fontWeight: 'bold', fontFamily: FONT, fill: '#000', align: 'left', verticalAlign: 'middle'}});
  graphics.push({type: 'text', x: yNameX[k], y: top + gridH / 2, rotation: Math.PI / 2, z: 100,
    style: {text: yAxisTitle, fontSize: 34, fontFamily: FONT, fill: '#000', align: 'center', verticalAlign: 'middle'}});
});
graphics.push({type: 'text', x: 2001, y: 4926, z: 100,
  style: {text: xAxisTitle, fontSize: 42, fontFamily: FONT, fill: '#000', align: 'center', verticalAlign: 'middle'}});

const chart = echarts.init(document.getElementById('chart'), null, {renderer: 'canvas', width: 4000, height: 5000});
chart.setOption({
  backgroundColor: '#ffffff',
  animation: false,
  textStyle: {fontFamily: FONT},
  grid: grids, xAxis: xAxes, yAxis: yAxes, series: series,
  legend: {
    show: true, orient: 'vertical', left: 1676, top: 100, selectedMode: false,
    itemWidth: 57, itemHeight: 10, itemGap: 13, padding: [8, 14, 12, 10],
    backgroundColor: 'rgba(255,255,255,0.85)', borderColor: '#cccccc', borderWidth: 2.5, borderRadius: 6,
    textStyle: {fontSize: 26, fontFamily: FONT, color: '#000', lineHeight: 30, padding: [0, 0, 0, 18]},
    data: [
      {name: seriesNames[0], icon: 'circle'},
      {name: seriesNames[1], itemStyle: {opacity: 0}},
      {name: seriesNames[2], itemStyle: {opacity: 0}}
    ]
  },
  graphic: {elements: graphics}
});
</script></body></html>
